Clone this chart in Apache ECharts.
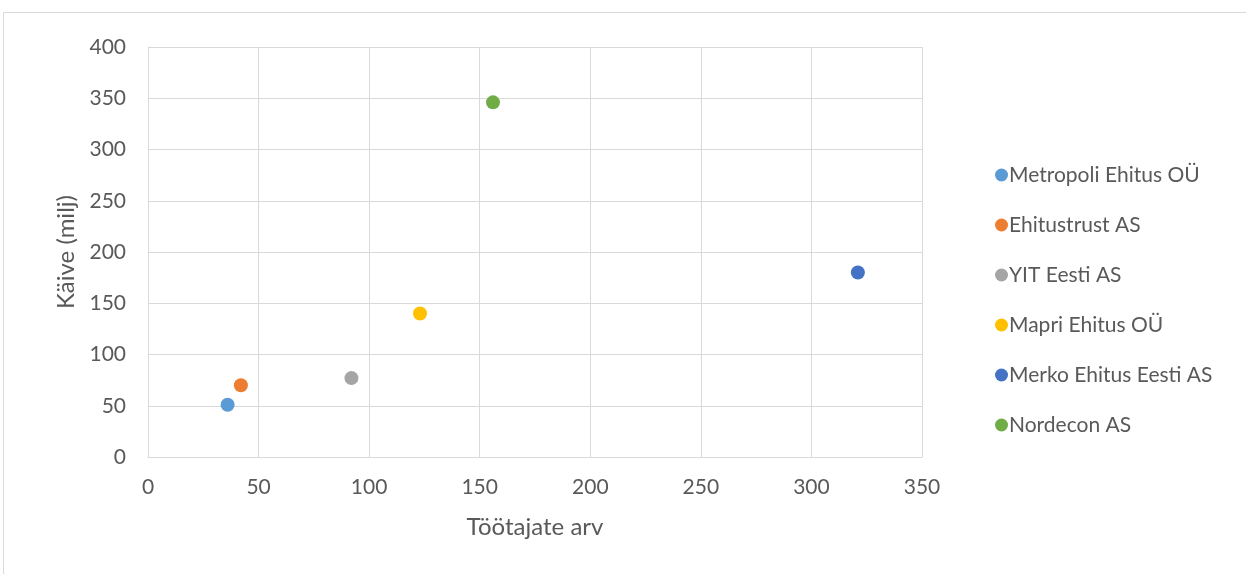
<!DOCTYPE html>
<html><head><meta charset="utf-8">
<script src="https://cdn.jsdelivr.net/npm/echarts@6/dist/echarts.min.js"></script>
<style>html,body{margin:0;padding:0;background:#fff}#c{width:1246px;height:574px}</style>
</head><body><div id="c"></div>
<script>
const names = ['Metropoli Ehitus OÜ','Ehitustrust AS','YIT Eesti AS','Mapri Ehitus OÜ','Merko Ehitus Eesti AS','Nordecon AS'];
const employees = [36, 42, 92, 123, 321, 156];
const turnover = [51, 70, 77, 140, 180, 346];
const colors = ['#5b9bd5','#ed7d31','#a5a5a5','#ffc000','#4472c4','#70ad47'];
const xTitle = 'Töötajate arv';
const yTitle = 'Käive (milj)';
const font = 'Lato, "Open Sans", sans-serif';
const chart = echarts.init(document.getElementById('c'));
chart.setOption({
  animation: false,
  graphic: [{type:'rect', shape:{x:3.5,y:12.5,width:1400,height:700}, style:{fill:'none', stroke:'#d9d9d9', lineWidth:1}}],
  grid: {left:148, top:47, width:774, height:410},
  xAxis: {type:'value', min:0, max:350, interval:50, name:xTitle, nameLocation:'middle', nameGap:58,
    nameTextStyle:{fontFamily:font, fontSize:24, color:'#595959'},
    axisLine:{show:true, lineStyle:{color:'#d9d9d9'}}, axisTick:{show:false},
    axisLabel:{fontFamily:font, fontSize:21, color:'#595959', margin:20},
    splitLine:{show:true, lineStyle:{color:'#d9d9d9', width:1}}},
  yAxis: {type:'value', min:0, max:400, interval:50, name:yTitle, nameLocation:'middle', nameGap:70, nameRotate:90,
    nameTextStyle:{fontFamily:font, fontSize:24, color:'#595959'},
    axisLine:{show:true, lineStyle:{color:'#d9d9d9'}}, axisTick:{show:false},
    axisLabel:{fontFamily:font, fontSize:21, color:'#595959', margin:22},
    splitLine:{show:true, lineStyle:{color:'#d9d9d9', width:1}}},
  legend: {orient:'vertical', left:990, top:159, icon:'circle', itemWidth:13, itemHeight:13, itemGap:28,
    textStyle:{fontFamily:font, fontSize:21, color:'#595959', lineHeight:22, padding:[0,0,0,-4]},
    data: names},
  series: names.map((n,i)=>({name:n, type:'scatter', symbolSize:14, itemStyle:{color:colors[i], opacity:1},
    data:[[employees[i], turnover[i]]]}))
});
</script></body></html>
